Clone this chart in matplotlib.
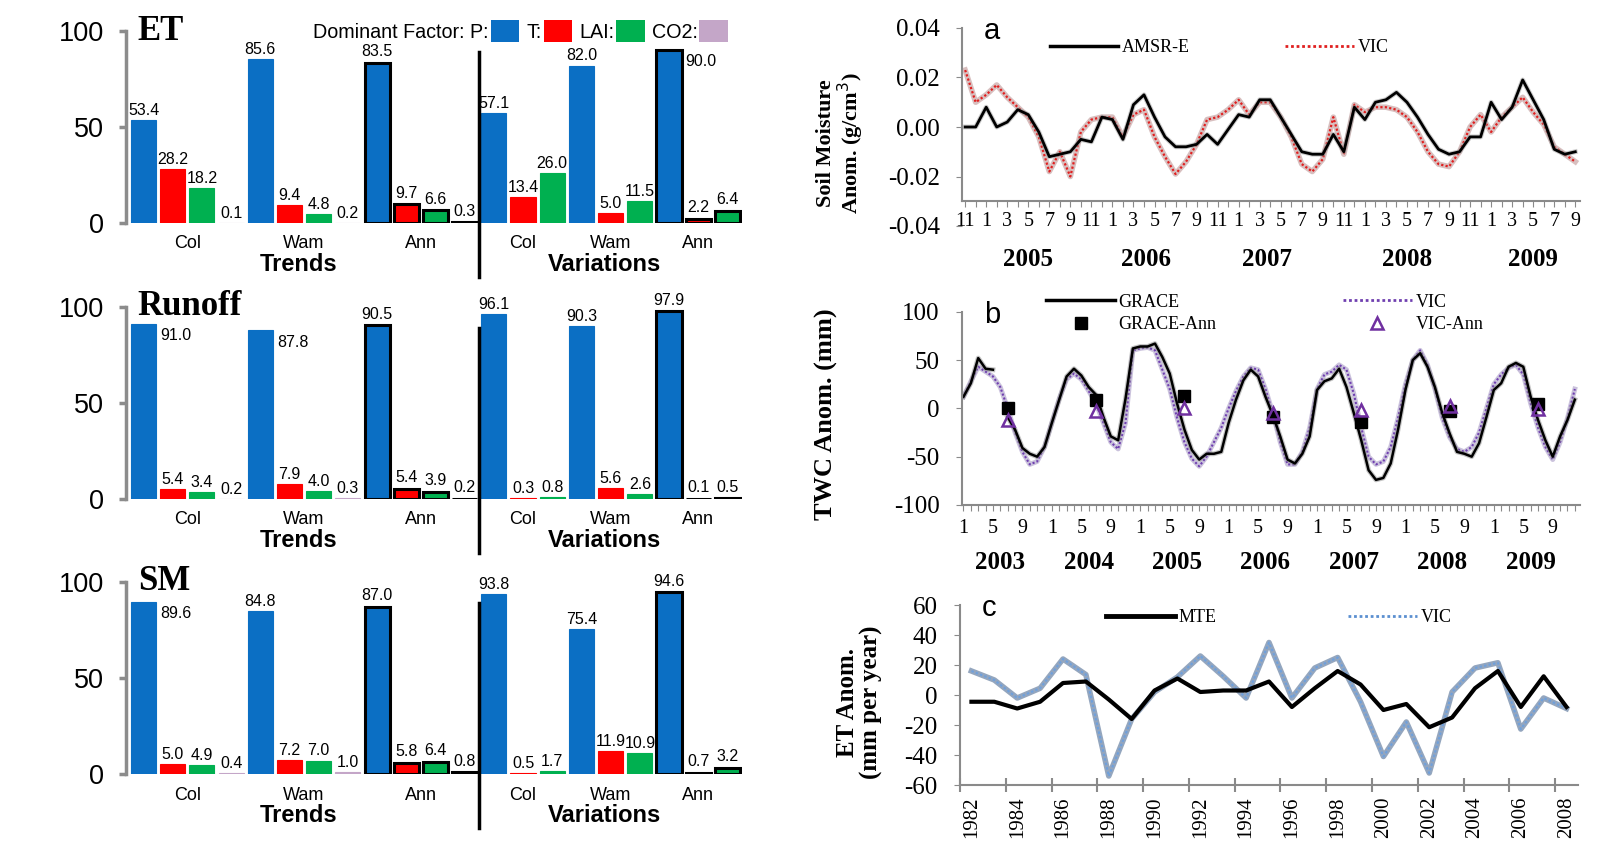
"""Dominant-factor bars (left) and anomaly validation series (right)."""

import matplotlib
matplotlib.use("Agg")
import matplotlib.pyplot as plt
import matplotlib.transforms as mtransforms
from matplotlib.lines import Line2D
from matplotlib.patches import Patch

# ---------------- left: share of dominant factor (%) ----------------
groups = ["Col", "Wam", "Ann"]
sections = ["Trends", "Variations"]
factor_labels = ["Dominant Factor: P:", "T:", "LAI:", "CO2:"]

et_trends = [[53.4, 28.2, 18.2, 0.1], [85.6, 9.4, 4.8, 0.2], [83.5, 9.7, 6.6, 0.3]]
et_variations = [[57.1, 13.4, 26.0], [82.0, 5.0, 11.5], [90.0, 2.2, 6.4]]
runoff_trends = [[91.0, 5.4, 3.4, 0.2], [87.8, 7.9, 4.0, 0.3], [90.5, 5.4, 3.9, 0.2]]
runoff_variations = [[96.1, 0.3, 0.8], [90.3, 5.6, 2.6], [97.9, 0.1, 0.5]]
sm_trends = [[89.6, 5.0, 4.9, 0.4], [84.8, 7.2, 7.0, 1.0], [87.0, 5.8, 6.4, 0.8]]
sm_variations = [[93.8, 0.5, 1.7], [75.4, 11.9, 10.9], [94.6, 0.7, 3.2]]

# ---------------- a: soil moisture anomaly, Nov 2004 - Sep 2009 ----------------
sm_start_month = 11
amsr_e = [0.000, 0.000, 0.008, 0.000, 0.002, 0.007, 0.005, -0.002, -0.012, -0.011,
          -0.010, -0.005, -0.006, 0.004, 0.003, -0.005, 0.009, 0.013, 0.004, -0.004,
          -0.008, -0.008, -0.007, -0.003, -0.007, -0.001, 0.005, 0.004, 0.011, 0.011,
          0.004, -0.003, -0.010, -0.011, -0.011, -0.003, -0.010, 0.008, 0.003, 0.010,
          0.011, 0.014, 0.010, 0.004, -0.003, -0.009, -0.011, -0.010, -0.004, -0.004,
          0.010, 0.003, 0.008, 0.019, 0.011, 0.003, -0.009, -0.011, -0.010]
vic_sm = [0.023, 0.010, 0.013, 0.017, 0.012, 0.008, 0.004, -0.004, -0.018, -0.010,
          -0.020, -0.002, 0.003, 0.004, 0.004, -0.004, 0.005, 0.007, -0.004, -0.012,
          -0.019, -0.014, -0.007, 0.003, 0.004, 0.007, 0.011, 0.005, 0.010, 0.010,
          0.004, -0.004, -0.015, -0.018, -0.013, 0.004, -0.011, 0.009, 0.006, 0.008,
          0.008, 0.007, 0.004, -0.002, -0.010, -0.015, -0.016, -0.010, 0.000, 0.005,
          -0.002, 0.004, 0.008, 0.012, 0.006, 0.001, -0.008, -0.011, -0.014]
sm_years = ["2005", "2006", "2007", "2008", "2009"]
sm_year_pos = [6, 17.2, 28.7, 42, 54]

# ---------------- b: total water content anomaly, Jan 2003 - Dec 2009 ----------------
grace = [12, 26, 52, 41, 40, None, -9, -22, -41, -47, -50, -40, -15, 9, 33, 41, 34, 22,
         14, -9, -29, -33, 10, 62, 64, 64, 67, 53, 36, 5, -22, -43, -53, -47, -47, -45,
         -15, 9, 29, 40, 33, 12, -7, -29, -53, -57, -47, -29, 19, 28, 31, 41, 22, -5,
         -33, -64, -74, -72, -57, -22, 19, 50, 57, 43, 22, -5, -26, -45, -47, -50, -36,
         -9, 19, 26, 43, 47, 43, 12, -12, -33, -50, -29, -12, 9]
vic_twc = [12, 28, 43, 38, 33, 22, 0, -25, -45, -58, -55, -40, -15, 10, 30, 36, 30, 18,
           5, -15, -35, -42, -15, 60, 62, 63, 60, 40, 20, -10, -35, -52, -60, -50, -35,
           -20, 0, 18, 33, 42, 40, 20, -5, -35, -58, -58, -45, -20, 20, 35, 38, 45, 40,
           15, -20, -50, -58, -55, -40, -10, 25, 50, 60, 45, 20, -10, -30, -42, -45, -40,
           -25, 0, 25, 35, 42, 45, 35, 5, -20, -40, -53, -35, -10, 20]
ann_pos = [6, 18, 30, 42, 54, 66, 78]
grace_ann = [0, 9, 13, -9, -14, -3, 5]
vic_ann = [-12, -3, 0, -5, -2, 2, -1]
twc_years = ["2003", "2004", "2005", "2006", "2007", "2008", "2009"]

# ---------------- c: annual ET anomaly, 1982 - 2008 ----------------
et_years = list(range(1982, 2009))
mte = [-4.5, -4.5, -9, -4.5, 8, 9, -3, -16, 3, 11, 2, 3, 3, 9, -8, 4.5, 16, 7, -10,
       -6, -21.5, -15, 4.5, 16, -8, 12.5, -8]
vic_et = [16, 10, -2, 4.5, 24, 13.6, -54, -16, 2, 12, 26, 12.5, -2, 35, -2, 18, 25,
          -4.5, -41, -18, -52, 2, 18, 21.5, -22.7, -2, -9]

bar_colors = ["#0b6fc4", "#ff0000", "#00b050", "#c4a6c8"]
SERIF = ["Liberation Serif", "DejaVu Serif"]
plt.rcParams["font.family"] = ["Liberation Sans", "DejaVu Sans"]
plt.rcParams["axes.unicode_minus"] = False

W, H = 1620, 852
fig = plt.figure(figsize=(W / 100, H / 100), dpi=100)


def px_axes(left, top, right, bottom):
    return fig.add_axes([left / W, 1 - bottom / H, (right - left) / W, (bottom - top) / H])


def draw_bars(ax, trends, variations, title, side_labels):
    pos = 0
    centers = []
    section_centers = []
    for section, data in zip(sections, (trends, variations)):
        sec_start = pos
        for g, vals in zip(groups, data):
            start = pos
            ann = g == "Ann"
            for k, v in enumerate(vals):
                ax.bar(pos, v, width=0.86, color=bar_colors[k],
                       edgecolor="black" if ann else bar_colors[k],
                       linewidth=2.2 if ann else 0.8, zorder=2)
                if k == 0 and (section, g) in side_labels:
                    ax.annotate(f"{v:.1f}", (pos + 0.43, v), xytext=(3, -3),
                                textcoords="offset points", ha="left", va="top",
                                fontsize=11.5)
                else:
                    ax.annotate(f"{v:.1f}", (pos, v), xytext=(0, 2.5 if ann else 1.5),
                                textcoords="offset points", ha="center", va="bottom",
                                fontsize=11.5, annotation_clip=False)
                pos += 1
            centers.append((start + pos - 1) / 2)
        section_centers.append((sec_start + pos - 1) / 2)

    ax.set_xlim(-0.6, pos - 0.5)
    ax.set_ylim(0, 100)
    ax.set_yticks([0, 50, 100])
    ax.set_xticks(centers, groups * 2)
    ax.tick_params(axis="x", length=0, labelsize=13, pad=9)
    ax.tick_params(axis="y", length=5, width=2.5, color="#8c8c8c", labelsize=19.5, pad=11)
    for side in ("top", "right", "bottom"):
        ax.spines[side].set_visible(False)
    ax.spines["left"].set_color("#8c8c8c")
    ax.spines["left"].set_linewidth(2.5)

    for name, c in zip(sections, section_centers):
        ax.text(c - 0.2, -21.5, name, ha="center", va="center", fontsize=17,
                fontweight="bold", clip_on=False)
    split = len(trends) * len(trends[0]) - 0.5
    ax.plot([split, split], [-28, 89], color="black", lw=2.5, clip_on=False)
    ax.text(-0.2, 100, title, ha="left", va="center", fontsize=25,
            fontweight="bold", family=SERIF)


ax_et = px_axes(126, 31, 742, 223)
draw_bars(ax_et, et_trends, et_variations, "ET", {("Variations", "Ann")})
handles = [Patch(facecolor=c) for c in bar_colors]
ax_et.legend(handles, factor_labels, ncol=4, markerfirst=False, frameon=False,
             loc="center right", bbox_to_anchor=(0.99, 1.0), fontsize=14.2,
             handlelength=1.45, handleheight=1.35, handletextpad=0.1, columnspacing=0.35,
             borderaxespad=0)

ax_ro = px_axes(126, 307, 742, 499)
draw_bars(ax_ro, runoff_trends, runoff_variations, "Runoff",
          {("Trends", "Col"), ("Trends", "Wam")})

ax_sm = px_axes(126, 582, 742, 774)
draw_bars(ax_sm, sm_trends, sm_variations, "SM", {("Trends", "Col")})


def style_series(ax, ylabel, ylab_size, ylab_xy, letter):
    for side in ("top", "right"):
        ax.spines[side].set_visible(False)
    for side in ("left", "bottom"):
        ax.spines[side].set_color("#8a8a8a")
        ax.spines[side].set_linewidth(1.5)
    ax.tick_params(axis="y", length=4, color="#8a8a8a", labelsize=18, pad=12)
    ax.set_ylabel(ylabel, family=SERIF, fontweight="bold", fontsize=ylab_size,
                  linespacing=1.0)
    ax.yaxis.set_label_coords(*ylab_xy)
    ax.text(0.035, 0.985, letter, transform=ax.transAxes, ha="left", va="center",
            fontsize=21)
    for lab in ax.get_yticklabels() + ax.get_xticklabels():
        lab.set_family(SERIF)


# ---- a ----
ax_a = px_axes(962, 28, 1580, 226)
idx_a = list(range(len(amsr_e)))
ax_a.plot(idx_a, vic_sm, color="#b88c8c", lw=4, alpha=0.55)
ax_a.plot(idx_a, vic_sm, color="#e02020", lw=1.6, ls=(0, (1, 1)))
ax_a.plot(idx_a, amsr_e, color="#9a9a9a", lw=3.5, alpha=0.5)
ax_a.plot(idx_a, amsr_e, color="black", lw=2)
ax_a.set_xlim(-0.3, 58.45)
ax_a.set_ylim(-0.04, 0.04)
ax_a.set_yticks([-0.04, -0.02, 0.0, 0.02, 0.04],
                ["-0.04", "-0.02", "0.00", "0.02", "0.04"])
ax_a.spines["bottom"].set_position(("data", -0.03))
ax_a.spines["left"].set_bounds(-0.03, 0.04)
month_a = [(sm_start_month - 1 + i) % 12 + 1 for i in idx_a]
ax_a.set_xticks(idx_a, [str(m) if i % 2 == 0 else "" for i, m in enumerate(month_a)])
ax_a.tick_params(axis="x", length=4, color="#8a8a8a", labelsize=14.5, pad=4)
style_series(ax_a, "Soil Moisture\nAnom. (g/cm$^3$)", 16, (-0.155, 0.42), "a")
trans_a = mtransforms.blended_transform_factory(ax_a.transData, ax_a.transAxes)
for yr, p in zip(sm_years, sm_year_pos):
    ax_a.text(p, -0.17, yr, transform=trans_a, ha="center", va="center",
              family=SERIF, fontweight="bold", fontsize=18)
ax_a.legend([Line2D([], [], color="black", lw=2.5),
             Line2D([], [], color="#e02020", lw=2, ls=(0, (1, 1)))],
            ["AMSR-E", "VIC"], ncol=2, frameon=False, loc="center left",
            bbox_to_anchor=(0.13, 0.9), prop={"family": SERIF, "size": 13},
            handlelength=3.8, handletextpad=0.2, columnspacing=5.3, borderaxespad=0)

# ---- b ----
ax_b = px_axes(962, 311.7, 1580, 505)
idx_b = list(range(len(grace)))
grace_plot = [float("nan") if g is None else g for g in grace]
ax_b.plot(idx_b, vic_twc, color="#a090c0", lw=3.5, alpha=0.55)
ax_b.plot(idx_b, vic_twc, color="#7040b0", lw=1.5, ls=(0, (1, 1)))
ax_b.plot(idx_b, grace_plot, color="#8a8a8a", lw=3.5, alpha=0.5)
ax_b.plot(idx_b, grace_plot, color="black", lw=1.8)
ax_b.plot(ann_pos, grace_ann, ls="none", marker="s", ms=9, color="black")
ax_b.plot(ann_pos, vic_ann, ls="none", marker="^", ms=8, mfc="none",
          mec="#7030a0", mew=1.8)
ax_b.set_xlim(-0.2, 83.7)
ax_b.set_ylim(-100, 100)
ax_b.set_yticks([-100, -50, 0, 50, 100])
ax_b.set_xticks(idx_b, [str(i % 12 + 1) if i % 4 == 0 else "" for i in idx_b])
ax_b.tick_params(axis="x", length=4, color="#8a8a8a", labelsize=14.5, pad=6)
style_series(ax_b, "TWC Anom. (mm)", 19, (-0.2, 0.47), "b")
trans_b = mtransforms.blended_transform_factory(ax_b.transData, ax_b.transAxes)
for k, yr in enumerate(twc_years):
    ax_b.text(5 + 12 * k, -0.30, yr, transform=trans_b, ha="center", va="center",
              family=SERIF, fontweight="bold", fontsize=18)
ax_b.legend([Line2D([], [], color="black", lw=2.5),
             Line2D([], [], ls="none", marker="s", ms=9, color="black"),
             Line2D([], [], color="#7040b0", lw=2, ls=(0, (1, 1))),
             Line2D([], [], ls="none", marker="^", ms=8, mfc="none",
                    mec="#7030a0", mew=1.8)],
            ["GRACE", "GRACE-Ann", "VIC", "VIC-Ann"], ncol=2, frameon=False,
            loc="upper left", bbox_to_anchor=(0.125, 1.13),
            prop={"family": SERIF, "size": 13}, handlelength=3.8,
            handletextpad=0.2, columnspacing=7, labelspacing=0.3, borderaxespad=0)

# ---- c ----
ax_c = px_axes(960, 605, 1578, 785)
idx_c = list(range(len(et_years)))
ax_c.plot(idx_c, vic_et, color="#7088a8", lw=4, alpha=0.75)
ax_c.plot(idx_c, vic_et, color="#6fa0dc", lw=1.5, ls=(0, (1.2, 1)))
ax_c.plot(idx_c, mte, color="black", lw=3)
ax_c.set_xlim(-0.5, len(et_years) - 0.5)
ax_c.set_ylim(-60, 60)
ax_c.set_yticks(range(-60, 61, 20))
ax_c.set_xticks(idx_c[::2], [str(y) for y in et_years[::2]], rotation=90)
ax_c.set_xticks([i - 0.5 for i in idx_c[::2]], minor=True)
ax_c.tick_params(axis="x", which="major", length=0, labelsize=15, pad=8)
ax_c.tick_params(axis="x", which="minor", length=10, direction="inout",
                 color="#8a8a8a", width=1.5)
style_series(ax_c, "ET Anom.\n(mm per year)", 18, (-0.125, 0.46), "c")
ax_c.legend([Line2D([], [], color="black", lw=3.5),
             Line2D([], [], color="#5b8fd0", lw=2, ls=(0, (1, 1)))],
            ["MTE", "VIC"], ncol=2, frameon=False, loc="center left",
            bbox_to_anchor=(0.225, 0.93), prop={"family": SERIF, "size": 13},
            handlelength=3.8, handletextpad=0.2, columnspacing=7.3, borderaxespad=0)

fig.savefig("out.png", dpi=100)
